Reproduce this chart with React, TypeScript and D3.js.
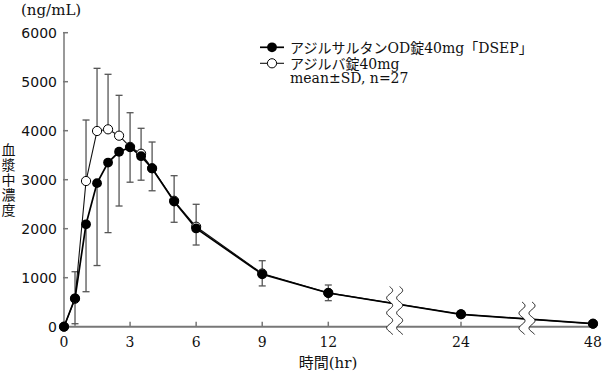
import React from "react";
import * as d3 from "d3";

const times = [0, 0.5, 1, 1.5, 2, 2.5, 3, 3.5, 4, 5, 6, 9, 12, 24, 48];
const odMean = [0, 580, 2090, 2930, 3350, 3570, 3660, 3480, 3230, 2555, 2005, 1070, 688, 253, 62];
const odSD = [0, 560, 1376, 1682, 1430, 1107, 711, 490, 456, 424, 338, 238, 157, 55, 20];
const azMean = [0, 570, 2973, 3994, 4028, 3898, 3670, 3530, 3235, 2570, 2040, 1085, 690, 255, 60];
const azSD = [0, 552, 1245, 1279, 1123, 824, 697, 519, 534, 512, 458, 262, 161, 60, 20];

const yTicks = [0, 1000, 2000, 3000, 4000, 5000, 6000];
const xTicks = [0, 3, 6, 9, 12, 24, 48];
const xBreaks = [18, 36];

const seriesLabels = ["アジルサルタンOD錠40mg「DSEP」", "アジルバ錠40mg"];
const noteLabel = "mean±SD, n=27";
const unitLabel = "(ng/mL)";
const yTitle = "血漿中濃度";
const xTitle = "時間(hr)";

const W = 602;
const H = 371;

const x = d3.scaleLinear().domain([0, 12, 24, 48]).range([64, 328.3, 461, 593]);
const y = d3.scaleLinear().domain([0, 6000]).range([326.7, 32.7]);

const SERIF = "'DejaVu Serif', 'Noto Sans CJK JP', serif";
const SANS = "'DejaVu Sans', sans-serif";
const CJK = "'Noto Sans CJK JP', sans-serif";

function wavePoints(cx: number, y0: number, y1: number) {
  const pts: [number, number][] = [];
  const amp = 3;
  const period = 15;
  for (let yy = y0; yy <= y1 + 0.01; yy += 0.5) {
    pts.push([cx + amp * Math.sin((2 * Math.PI * (yy - y0)) / period), yy]);
  }
  return pts;
}

export default function App() {
  const odPts = times.map((t, i) => ({ t, v: odMean[i], sd: odSD[i] }));
  const azPts = times.map((t, i) => ({ t, v: azMean[i], sd: azSD[i] }));
  const line = d3
    .line<{ t: number; v: number }>()
    .x((d) => x(d.t))
    .y((d) => y(d.v));
  const interp = (t: number) => {
    const i = d3.bisectRight(times, t);
    const t0 = times[i - 1], t1 = times[i];
    const v0 = odMean[i - 1], v1 = odMean[i];
    const px = x(t);
    const f = (px - x(t0)) / (x(t1) - x(t0));
    return v0 + (v1 - v0) * f;
  };
  const axisY = y(0);
  const wl = d3.line<[number, number]>();
  const cap = 3.5;

  return (
    <svg
      width={W}
      height={H}
      style={{ position: "absolute", left: 0, top: 0, background: "#fff" }}
    >
      {/* unit */}
      <text x={21} y={15} fontFamily={SERIF} fontSize={15} fill="#111">
        {unitLabel}
      </text>
      {/* y title vertical */}
      <text
        x={8.5}
        y={143}
        fontFamily={CJK}
        fontSize={14}
        fill="#111"
        style={{ writingMode: "vertical-rl", letterSpacing: "1px" } as any}
      >
        {yTitle}
      </text>
      {/* y axis */}
      <line x1={64} x2={64} y1={y(6000)} y2={axisY} stroke="#777" strokeWidth={1.5} />
      {yTicks.map((t) => (
        <g key={t}>
          <line x1={63} x2={68} y1={y(t)} y2={y(t)} stroke="#777" strokeWidth={1.5} />
          <text
            x={57}
            y={y(t) + 5}
            textAnchor="end"
            fontFamily={SANS}
            fontSize={14}
            fill="#111"
          >
            {t}
          </text>
        </g>
      ))}
      {/* x axis */}
      <line x1={63.5} x2={593} y1={axisY} y2={axisY} stroke="#777" strokeWidth={2} />
      {xTicks.map((t) => (
        <g key={t}>
          <line x1={x(t)} x2={x(t)} y1={axisY} y2={axisY - 5} stroke="#777" strokeWidth={1.5} />
          <text
            x={x(t)}
            y={347}
            textAnchor="middle"
            fontFamily={SERIF}
            fontSize={14}
            fill="#111"
          >
            {t}
          </text>
        </g>
      ))}
      <text x={328} y={368} textAnchor="middle" fontFamily={SERIF} fontSize={15} fill="#111">
        {xTitle}
      </text>

      {/* error bars */}
      {azPts.map((d, i) =>
        d.sd > 0 ? (
          <g key={"ea" + i} stroke="#555" strokeWidth={1.3}>
            <line x1={x(d.t)} x2={x(d.t)} y1={y(d.v)} y2={y(d.v + d.sd)} />
            <line x1={x(d.t) - cap} x2={x(d.t) + cap} y1={y(d.v + d.sd)} y2={y(d.v + d.sd)} />
          </g>
        ) : null
      )}
      {odPts.map((d, i) =>
        d.sd > 0 ? (
          <g key={"eo" + i} stroke="#555" strokeWidth={1.3}>
            <line x1={x(d.t)} x2={x(d.t)} y1={y(d.v)} y2={y(Math.max(0, d.v - d.sd))} />
            <line
              x1={x(d.t) - cap}
              x2={x(d.t) + cap}
              y1={y(Math.max(0, d.v - d.sd)) - (d.v - d.sd <= 30 ? 2 : 0)}
              y2={y(Math.max(0, d.v - d.sd)) - (d.v - d.sd <= 30 ? 2 : 0)}
            />
          </g>
        ) : null
      )}

      {/* lines */}
      <path d={line(azPts) || ""} fill="none" stroke="#111" strokeWidth={1.1} />
      <path d={line(odPts) || ""} fill="none" stroke="#000" strokeWidth={1.7} />

      {/* breaks */}
      {xBreaks.map((b, i) => {
        const cx = x(b);
        const top = y(interp(b)) - 17;
        const bot = axisY + 8;
        const left = wavePoints(cx - 5, top, bot);
        const right = wavePoints(cx + 5, top, bot);
        const poly = left.concat(right.slice().reverse());
        return (
          <g key={"b" + i}>
            <path d={(wl(poly) || "") + "Z"} fill="#fff" stroke="none" />
            <path d={wl(left) || ""} fill="none" stroke="#111" strokeWidth={1} />
            <path d={wl(right) || ""} fill="none" stroke="#111" strokeWidth={1} />
          </g>
        );
      })}

      {/* markers */}
      {azPts.map((d, i) => (
        <circle key={"ma" + i} cx={x(d.t)} cy={y(d.v)} r={4.6} fill="#fff" stroke="#000" strokeWidth={1} />
      ))}
      {odPts.map((d, i) => (
        <circle key={"mo" + i} cx={x(d.t)} cy={y(d.v)} r={4.9} fill="#000" />
      ))}

      {/* legend */}
      <g>
        <line x1={260} x2={284} y1={47.3} y2={47.3} stroke="#000" strokeWidth={1.7} />
        <circle cx={272} cy={47.3} r={4.9} fill="#000" />
        <text x={290} y={52.5} fontFamily={SERIF} fontSize={14} fill="#111">
          {seriesLabels[0]}
        </text>
        <line x1={260} x2={284} y1={63.3} y2={63.3} stroke="#111" strokeWidth={1.1} />
        <circle cx={272} cy={63.3} r={4.6} fill="#fff" stroke="#000" strokeWidth={1} />
        <text x={290} y={68.5} fontFamily={SERIF} fontSize={14} fill="#111">
          {seriesLabels[1]}
        </text>
        <text x={290} y={83} fontFamily={SERIF} fontSize={14} fill="#111">
          {noteLabel}
        </text>
      </g>
    </svg>
  );
}
